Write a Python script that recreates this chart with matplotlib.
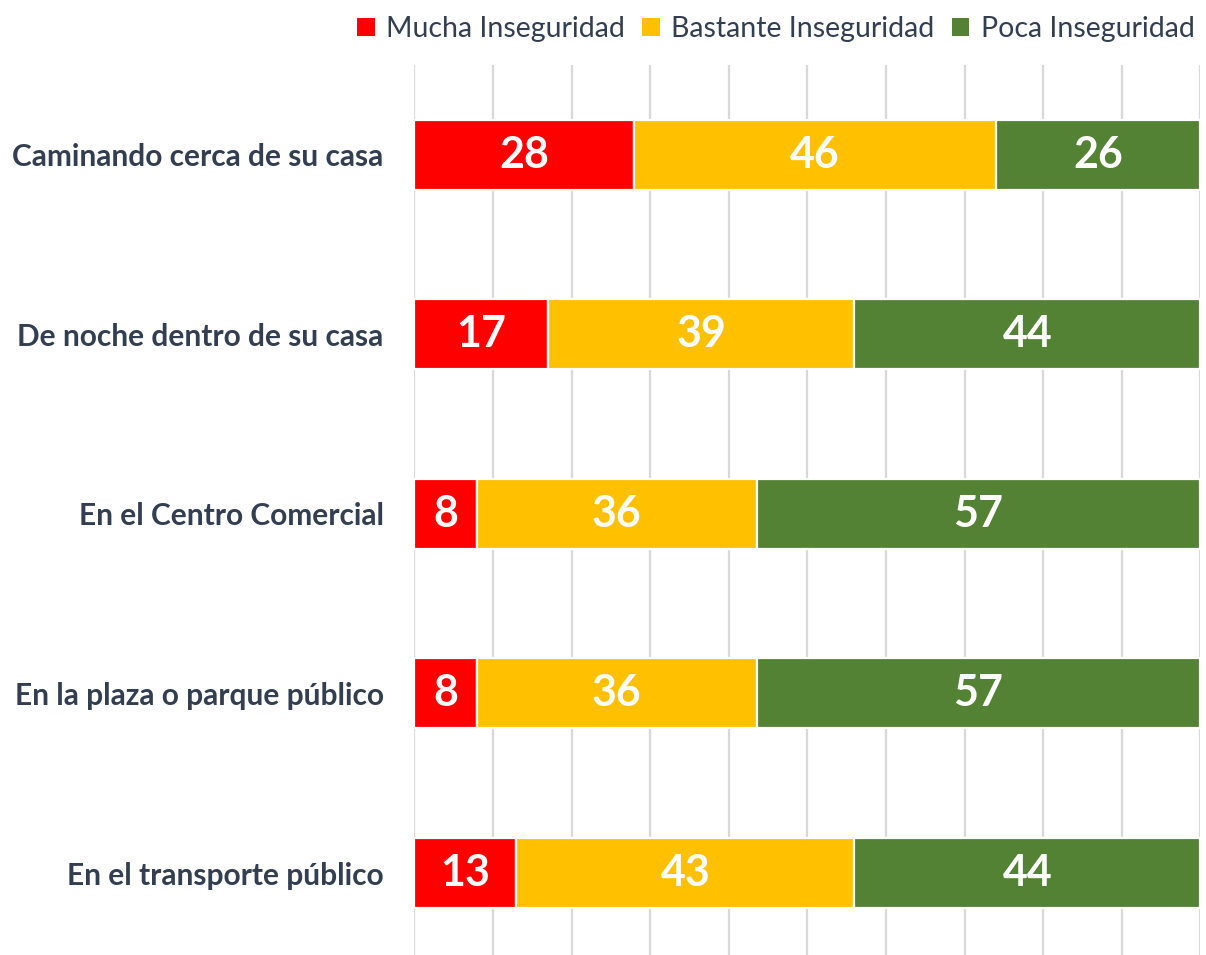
import matplotlib.pyplot as plt
from matplotlib.patches import Patch
import numpy as np

plt.rcParams['font.family'] = ['Lato', 'DejaVu Sans']

categorias = ['Caminando cerca de su casa', 'De noche dentro de su casa',
              'En el Centro Comercial', 'En la plaza o parque público',
              'En el transporte público']
mucha = [28, 17, 8, 8, 13]
bastante = [46, 39, 36, 36, 43]
poca = [26, 44, 57, 57, 44]

series = ['Mucha Inseguridad', 'Bastante Inseguridad', 'Poca Inseguridad']
colores = ['#FF0000', '#FFC000', '#548235']
texto = '#333F50'

datos = np.array([mucha, bastante, poca], dtype=float)
totales = datos.sum(axis=0)
pct = datos / totales * 100  # 100% stacked, como en Excel

fig = plt.figure(figsize=(12.06, 9.55), dpi=100)
ax = fig.add_axes([414.3 / 1206, 0, 786 / 1206, 890 / 955])

y = np.arange(len(categorias))
izq = np.zeros(len(categorias))
for i in range(3):
    ax.barh(y, pct[i], left=izq, height=0.39, color=colores[i],
            edgecolor='white', linewidth=1.6, zorder=3)
    for j in range(len(categorias)):
        ax.text(izq[j] + pct[i][j] / 2, y[j], '%d' % datos[i][j],
                ha='center', va='center', color='white',
                fontsize=31, fontweight='bold', zorder=4)
    izq += pct[i]

ax.set_xlim(0, 100)
ax.set_ylim(4 + 82 / 179.6, -0.5)
ax.set_xticks(np.arange(0, 101, 10))
ax.xaxis.grid(True, color='#D9D9D9', linewidth=1.6, zorder=0)
ax.tick_params(axis='x', length=0, labelbottom=False)
ax.tick_params(axis='y', length=0, pad=22)
ax.set_yticks(y)
ax.set_yticklabels(categorias, fontsize=21.5, fontweight='bold', color=texto)
for s in ax.spines.values():
    s.set_visible(False)

handles = [Patch(facecolor=c, edgecolor='none') for c in colores]
fig.legend(handles, series, loc='center right', bbox_to_anchor=(1.0, 1 - 29 / 955),
           ncol=3, frameon=False, fontsize=20.5, labelcolor=texto,
           handlelength=0.62, handleheight=0.62, handletextpad=0.4,
           columnspacing=0.6, borderaxespad=0.0)

fig.savefig('out.png', dpi=100)
